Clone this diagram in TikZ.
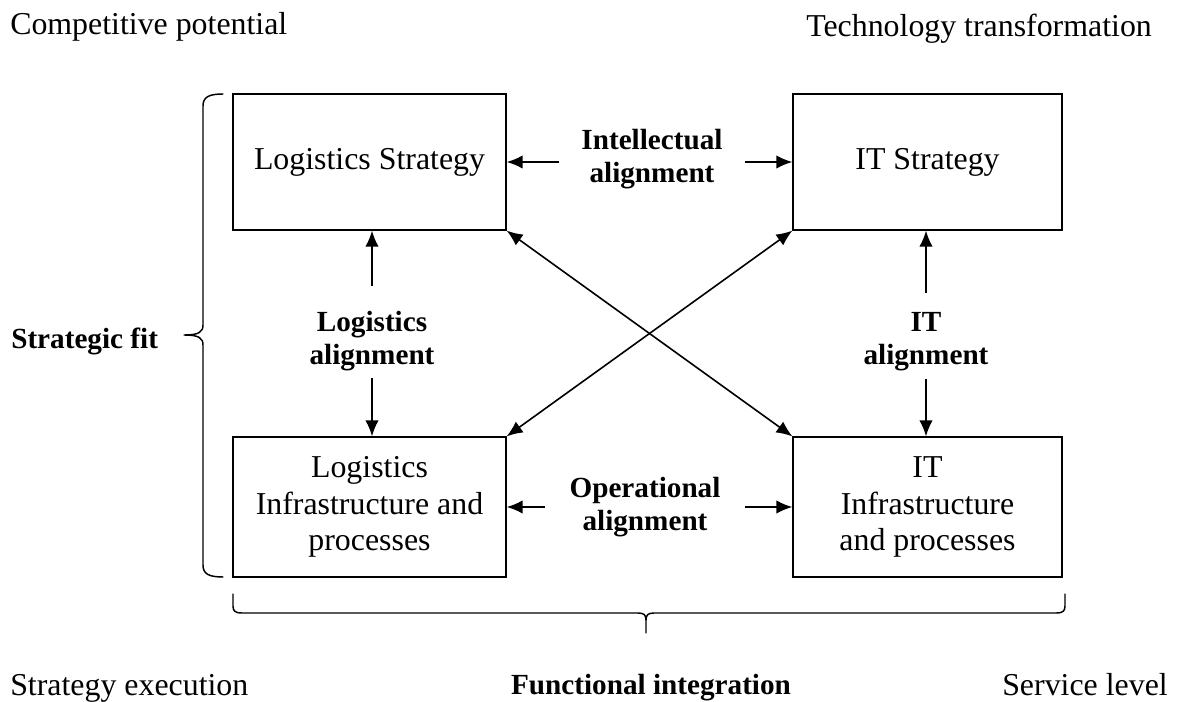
\documentclass[tikz,border=0pt]{standalone}
\usepackage{fontspec}
\setmainfont{Liberation Serif}
\usetikzlibrary{arrows.meta,calc}
\begin{document}
\begin{tikzpicture}[x=0.75pt,y=-0.75pt,
  box/.style={draw, line width=0.9pt, rectangle, align=center, inner sep=0pt,
    font=\fontsize{23.9pt}{27.5pt}\selectfont},
  plain/.style={inner sep=0pt, font=\fontsize{23.9pt}{27.5pt}\selectfont},
  boldlbl/.style={inner sep=0pt, align=center, font=\fontsize{21.9pt}{24.8pt}\selectfont\bfseries},
  arr/.style={line width=1.2pt, -{Latex[length=12pt,width=10pt]}},
  darr/.style={line width=1.2pt, {Latex[length=12pt,width=10pt]}-{Latex[length=12pt,width=10pt]}},
  brace/.style={line width=1.1pt, line cap=round, line join=round}]
\useasboundingbox (0,0) rectangle (1181,702);

% four boxes
\node[box, minimum width=204.75pt, minimum height=102pt] (ls)  at (369.5,162) {Logistics Strategy};
\node[box, minimum width=201.75pt, minimum height=102pt] (its) at (927.5,162) {IT Strategy};
\node[box, minimum width=204.75pt, minimum height=105pt] (li)  at (369.5,507) {Logistics\\Infrastructure and\\processes};
\node[box, minimum width=201.75pt, minimum height=105pt] (iti) at (927.5,507) {IT\\Infrastructure\\and processes};

% alignment labels
\node[boldlbl] (intel) at (652,159) {Intellectual\\alignment};
\node[boldlbl] (oper)  at (645,507) {Operational\\alignment};
\node[boldlbl] (la)    at (372,341) {Logistics\\alignment};
\node[boldlbl] (ita)   at (926,342) {IT\\alignment};

% horizontal arrows
\draw[arr] ($(intel.west |- ls.east)+(-22,0)$) -- (ls.east);
\draw[arr] ($(intel.east |- its.west)+(22,0)$) -- (its.west);
\draw[arr] ($(oper.west |- li.east)+(-24,0)$) -- (li.east);
\draw[arr] ($(oper.east |- iti.west)+(24,0)$) -- (iti.west);

% vertical arrows
\draw[arr] ($(la.north)+(0,-25)$) -- (la.north |- ls.south);
\draw[arr] ($(la.south)+(0,7)$) -- (la.south |- li.north);
\draw[arr] ($(ita.north)+(0,-19)$) -- (ita.north |- its.south);
\draw[arr] ($(ita.south)+(0,7)$) -- (ita.south |- iti.north);

% crossing arrows
\draw[darr] (ls.south east) -- (iti.north west);
\draw[darr] (li.north east) -- (its.south west);

% left brace
\draw[brace] (223,94) .. controls (209,94) and (203,97) .. (203,106) -- (203,325)
  .. controls (203,332) and (199,335) .. (184,335)
  .. controls (199,335) and (203,338) .. (203,345) -- (203,565)
  .. controls (203,574) and (209,577) .. (223,577);

% bottom brace
\draw[brace] (233,594) -- (233,606) .. controls (233,611) and (235,613) .. (242,613) -- (638,613)
  .. controls (644,613) and (646,615) .. (646,620) -- (646,633);
\draw[brace] (646,620) .. controls (646,615) and (648,613) .. (654,613) -- (1056,613)
  .. controls (1063,613) and (1065,611) .. (1065,606) -- (1065,594);

% side texts
\node[plain, anchor=base west] (cp) at (10,35) {Competitive potential};
\node[plain, anchor=base west] (tt) at (806,37) {Technology transformation};
\node[plain, anchor=base west] (se) at (10,695) {Strategy execution};
\node[plain, anchor=base west] (sl) at (1002,695) {Service level};
\node[boldlbl, anchor=base west] (sf) at (11,348) {Strategic fit};
\node[boldlbl, anchor=base] (fi) at (651,694) {Functional integration};
\end{tikzpicture}
\end{document}
